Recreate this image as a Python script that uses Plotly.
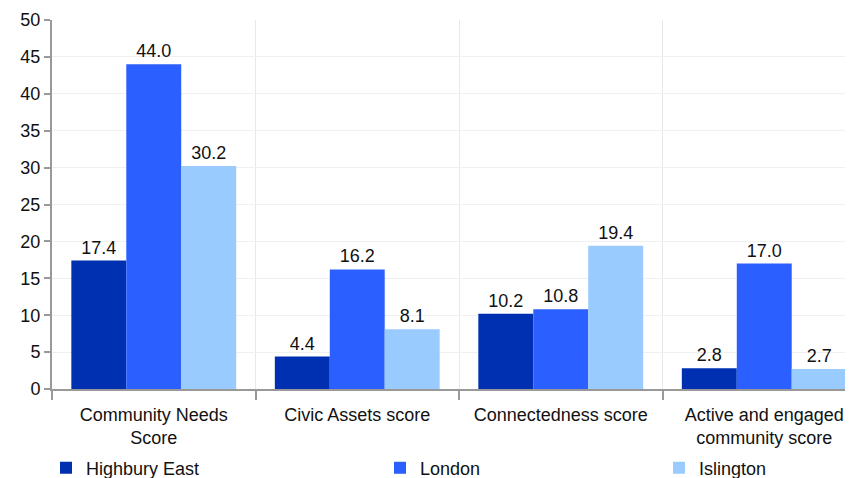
import plotly.graph_objects as go

categories = ["Community Needs<br>Score", "Civic Assets score", "Connectedness score", "Active and engaged<br>community score"]
series_names = ["Highbury East", "London", "Islington"]
highbury_east = [17.4, 4.4, 10.2, 2.8]
london = [44.0, 16.2, 10.8, 17.0]
islington = [30.2, 8.1, 19.4, 2.7]
y_ticks = [0, 5, 10, 15, 20, 25, 30, 35, 40, 45, 50]

colors = ["#0030B2", "#2C5FFF", "#99CBFF"]
values = [highbury_east, london, islington]
legend_ids = ["legend", "legend2", "legend3"]

# page body has an 8px margin, so the figure is drawn 8px in from the window edge
W, H = 845, 470
fig = go.Figure()
for name, vals, col, lg in zip(series_names, values, colors, legend_ids):
    fig.add_trace(go.Bar(
        x=categories, y=vals, name=name, marker_color=col, marker_line_width=0,
        text=[f"{v:.1f}" for v in vals], textposition="outside",
        textfont=dict(size=18, color="#111111"), cliponaxis=False,
        legend=lg, showlegend=True,
    ))

plot_w = W - 44

legend_common = dict(orientation="h", yanchor="middle", y=1 - 460 / H, xanchor="left",
                     xref="container", yref="container",
                     font=dict(size=18, color="#111111"), bgcolor="rgba(0,0,0,0)")

fig.update_layout(
    width=W, height=H,
    margin=dict(l=44, r=0, t=12, b=89, autoexpand=False),
    paper_bgcolor="white", plot_bgcolor="white",
    font=dict(family="Liberation Sans, Arial, sans-serif", size=18, color="#111111"),
    barmode="group", bargap=0.19, bargroupgap=0,
    showlegend=True,
    legend=dict(x=38 / W, **legend_common),
    legend2=dict(x=372 / W, **legend_common),
    legend3=dict(x=651 / W, **legend_common),
)
fig.update_xaxes(
    range=[-0.5, -0.5 + plot_w / 203.5], tickson="boundaries", automargin=False,
    showline=True, linecolor="#999999", linewidth=2,
    ticks="outside", ticklen=9, tickcolor="#999999", tickwidth=2,
    showgrid=True, gridcolor="#e8e8e8", gridwidth=1,
    tickfont=dict(size=18, color="#111111"), ticklabelstandoff=8,
)
fig.update_yaxes(
    range=[0, 50], tickvals=y_ticks, automargin=False,
    showline=True, linecolor="#999999", linewidth=2,
    ticks="outside", ticklen=6, tickcolor="#999999", tickwidth=2,
    showgrid=True, gridcolor="#f0f0f0", gridwidth=1, zeroline=False,
    tickfont=dict(size=18, color="#111111"),
)

fig.write_html("out.html")
